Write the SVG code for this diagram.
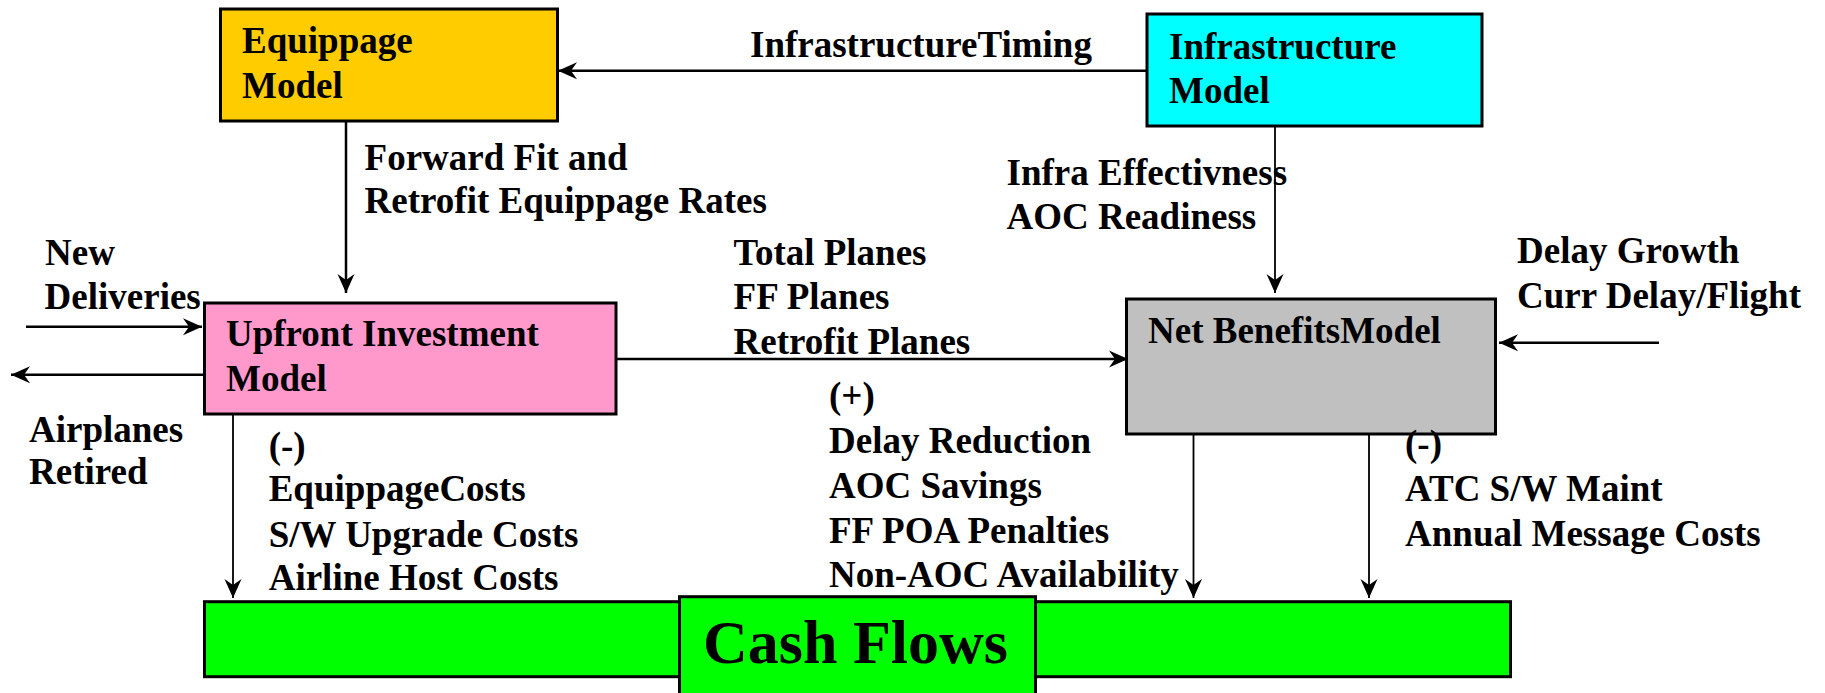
<svg xmlns="http://www.w3.org/2000/svg" width="1825" height="693" viewBox="0 0 1825 693">
  <style>
    .box { stroke: #000; stroke-width: 3; }
    .lbl { font-family: "Liberation Serif", "Times New Roman", serif; font-weight: bold; font-size: 37px; fill: #000; }
    .big { font-family: "Liberation Serif", "Times New Roman", serif; font-weight: bold; font-size: 62px; fill: #000; }
    .wire { stroke: #000; stroke-width: 2.5; fill: none; marker-end: url(#head); }
    .thin { stroke-width: 1.8; }
  </style>
  <defs>
    <marker id="head" markerUnits="userSpaceOnUse" markerWidth="24" markerHeight="20" viewBox="-20 -10 22 20" refX="0" refY="0" orient="auto">
      <path d="M0,0 L-19,-8.5 L-13,0 L-19,8.5 Z" fill="#000"/>
    </marker>
  </defs>
  <rect width="1825" height="693" fill="#fff"/>

  <g id="connectors">
    <line class="wire" x1="1147" y1="70.7" x2="558" y2="70.7"/>
    <line class="wire" x1="346" y1="121" x2="346" y2="293"/>
    <line class="wire thin" x1="1275" y1="119" x2="1275" y2="293"/>
    <line class="wire" x1="26" y1="326.7" x2="202" y2="326.7"/>
    <line class="wire" x1="204" y1="374.7" x2="11" y2="374.7"/>
    <line class="wire" x1="616" y1="359" x2="1128" y2="359"/>
    <line class="wire" x1="1659" y1="342.7" x2="1499" y2="342.7"/>
    <line class="wire thin" x1="233" y1="407" x2="233" y2="598"/>
    <line class="wire thin" x1="1193.5" y1="406.7" x2="1193.5" y2="598"/>
    <line class="wire thin" x1="1369" y1="406.7" x2="1369" y2="598"/>
  </g>

  <g id="equippage-model">
    <rect class="box" x="220.5" y="9" width="337" height="112" fill="#FFCC00"/>
    <text class="lbl" x="242" y="53">Equippage</text>
    <text class="lbl" x="242" y="97.5">Model</text>
  </g>

  <g id="infrastructure-model">
    <rect class="box" x="1147" y="14" width="335" height="112" fill="#00FFFF"/>
    <text class="lbl" x="1169" y="58.5">Infrastructure</text>
    <text class="lbl" x="1169" y="103">Model</text>
  </g>

  <g id="upfront-investment-model">
    <rect class="box" x="204.5" y="303" width="411.5" height="111" fill="#FF99CC"/>
    <text class="lbl" x="226" y="346">Upfront Investment</text>
    <text class="lbl" x="226" y="390.5">Model</text>
  </g>

  <g id="net-benefits-model">
    <rect class="box" x="1126.5" y="299" width="369" height="135" fill="#C0C0C0"/>
    <text class="lbl" x="1148" y="342.7">Net BenefitsModel</text>
  </g>

  <g id="cash-flows">
    <rect class="box" x="204.5" y="601.7" width="1306" height="75" fill="#00FF00"/>
    <rect class="box" x="679.5" y="596.7" width="356" height="110" fill="#00FF00"/>
    <text class="big" x="703" y="663">Cash Flows</text>
  </g>

  <g id="labels">
    <text class="lbl" x="750" y="57.3">InfrastructureTiming</text>
    <text class="lbl" x="364.6" y="170">Forward Fit and</text>
    <text class="lbl" x="364.6" y="213">Retrofit Equippage Rates</text>
    <text class="lbl" x="1006.5" y="185">Infra Effectivness</text>
    <text class="lbl" x="1006.5" y="229">AOC Readiness</text>
    <text class="lbl" x="45" y="265">New</text>
    <text class="lbl" x="44.6" y="309">Deliveries</text>
    <text class="lbl" x="733.6" y="265">Total Planes</text>
    <text class="lbl" x="733.6" y="309">FF Planes</text>
    <text class="lbl" x="733.6" y="354">Retrofit Planes</text>
    <text class="lbl" x="1517" y="263.3">Delay Growth</text>
    <text class="lbl" x="1517" y="308.3">Curr Delay/Flight</text>
    <text class="lbl" x="29" y="441.7">Airplanes</text>
    <text class="lbl" x="29" y="484">Retired</text>
    <text class="lbl" x="268.7" y="458">(-)</text>
    <text class="lbl" x="268.7" y="500.7">EquippageCosts</text>
    <text class="lbl" x="268.7" y="546.7">S/W Upgrade Costs</text>
    <text class="lbl" x="268.7" y="590">Airline Host Costs</text>
    <text class="lbl" x="829" y="408">(+)</text>
    <text class="lbl" x="829" y="452.7">Delay Reduction</text>
    <text class="lbl" x="829" y="498">AOC Savings</text>
    <text class="lbl" x="829" y="543">FF POA Penalties</text>
    <text class="lbl" x="829" y="586.7">Non-AOC Availability</text>
    <text class="lbl" x="1405" y="456">(-)</text>
    <text class="lbl" x="1405" y="500.7">ATC S/W Maint</text>
    <text class="lbl" x="1405" y="546">Annual Message Costs</text>
  </g>
</svg>
